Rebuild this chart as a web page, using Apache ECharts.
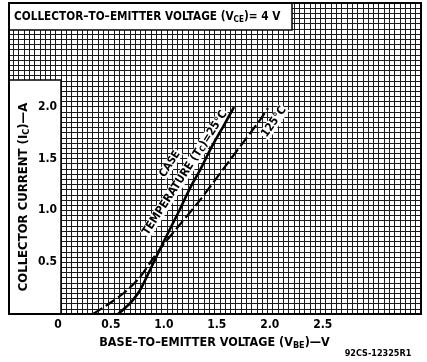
<!DOCTYPE html>
<html><head><meta charset="utf-8">
<script src="https://cdn.jsdelivr.net/npm/echarts@6/dist/echarts.min.js"></script>
<style>html,body{margin:0;padding:0;background:#fff}#c{width:427px;height:362px}</style>
</head><body><div id="c"></div>
<script>
// Case temperature 25 °C (solid)
const vbe25 = [0.54, 0.605, 0.671, 0.747, 0.841, 0.936, 1.03, 1.125, 1.219, 1.323, 1.427, 1.540, 1.634];
const ic25  = [0.00, 0.058, 0.125, 0.231, 0.424, 0.627, 0.82, 1.013, 1.215, 1.408, 1.620, 1.823, 1.996];
// Case temperature 125 °C (dashed)
const vbe125 = [0.303, 0.464, 0.605, 0.747, 0.86, 0.964, 1.096, 1.313, 1.596, 1.879, 1.955];
const ic125  = [0.00, 0.106, 0.212, 0.357, 0.521, 0.665, 0.829, 1.099, 1.485, 1.871, 1.986];

const xTickValues = [0, 0.5, 1.0, 1.5, 2.0, 2.5];
const xTickLabels = ['0', '0.5', '1.0', '1.5', '2.0', '2.5'];
const yTickValues = [0.5, 1.0, 1.5, 2.0];
const yTickLabels = ['0.5', '1.0', '1.5', '2.0'];

const titleText = 'COLLECTOR–TO–EMITTER VOLTAGE (V{s|CE})= 4 V';
const xName = 'BASE–TO–EMITTER VOLTAGE (V{s|BE})—V';
const yName = 'COLLECTOR CURRENT (I{s|C})—A';
const label25a = 'CASE';
const label25b = 'TEMPERATURE (T{s|C})=25°C';
const label125 = '125°C';
const footer = '92CS-12325R1';

const FONT = "'Liberation Sans Narrow','DejaVu Sans Condensed','Liberation Sans',sans-serif";

function pick(vals, labs) {
  return function (v) {
    for (let i = 0; i < vals.length; i++) if (Math.abs(vals[i] - v) < 1e-6) return labs[i];
    return '';
  };
}
const subRich = { s: { fontSize: 9, fontWeight: 'bold', fontFamily: FONT, padding: [6, 0, 0, 0], fill: '#000', color: '#000' } };

const gridLine = { show: true, lineStyle: { color: '#1a1a1a', width: 1 } };
const chart = echarts.init(document.getElementById('c'));
chart.setOption({
  animation: false,
  backgroundColor: '#fff',
  grid: { left: 8, right: 6, top: 3, bottom: 48, containLabel: false, outerBoundsMode: 'none' },
  xAxis: [
    { type: 'value', min: -0.5, max: 3.4, interval: 0.05, position: 'bottom', z: 0,
      axisLine: { show: false }, axisTick: { show: false }, axisLabel: { show: false }, splitLine: gridLine },
    { type: 'value', min: -0.5, max: 3.4, interval: 0.5, position: 'bottom', z: 5,
      axisLine: { show: false }, axisTick: { show: false }, splitLine: { show: false },
      axisLabel: { formatter: pick(xTickValues, xTickLabels), margin: 5, color: '#000', fontWeight: 'bold', fontSize: 12, fontFamily: FONT, padding: [0, 6, 0, 0] },
      name: xName, nameLocation: 'middle', nameGap: 17,
      nameTextStyle: { color: '#000', fontWeight: 'bold', fontSize: 12.5, fontFamily: FONT, verticalAlign: 'top', rich: subRich } }
  ],
  yAxis: [
    { type: 'value', min: 0, max: 3.0, interval: 0.05, z: 0,
      axisLine: { show: false, onZero: false }, axisTick: { show: false }, axisLabel: { show: false }, splitLine: gridLine },
    { type: 'value', min: 0, max: 3.0, interval: 0.5, z: 5, position: 'left',
      axisLine: { show: false, onZero: false }, axisTick: { show: false }, splitLine: { show: false },
      axisLabel: { formatter: pick(yTickValues, yTickLabels), margin: -49, align: 'right', color: '#000', fontWeight: 'bold', fontSize: 12, fontFamily: FONT } }
  ],
  graphic: [
    { type: 'rect', z: 1, shape: { x: 9, y: 3, width: 283, height: 27 }, style: { fill: '#fff', stroke: '#000', lineWidth: 1.5 } },
    { type: 'rect', z: 1, shape: { x: 9, y: 80, width: 52, height: 234 }, style: { fill: '#fff', stroke: '#000', lineWidth: 1.5 } },
    { type: 'rect', z: 3, shape: { x: 9, y: 3, width: 412, height: 311 }, style: { fill: 'none', stroke: '#000', lineWidth: 2 } },
    { type: 'text', z: 6, x: 14, y: 17, scaleX: 0.9, style: { text: titleText, fontSize: 13, fontWeight: 'bold', fontFamily: FONT, fill: '#000', verticalAlign: 'middle', rich: subRich } },
    { type: 'text', z: 6, x: 24, y: 197, rotation: Math.PI / 2, style: { text: yName, fontSize: 13, fontWeight: 'bold', fontFamily: FONT, fill: '#000', align: 'center', verticalAlign: 'middle', rich: subRich } },
    { type: 'text', z: 2, x: 170, y: 164, rotation: 57 * Math.PI / 180, style: { text: label25a, fontSize: 11, fontWeight: 'bold', fontFamily: FONT, fill: '#000', align: 'center', verticalAlign: 'middle', backgroundColor: '#fff', padding: [0, 1] } },
    { type: 'text', z: 2, x: 185, y: 173, rotation: 57 * Math.PI / 180, style: { text: label25b, fontSize: 11.5, fontWeight: 'bold', fontFamily: FONT, fill: '#000', align: 'center', verticalAlign: 'middle', backgroundColor: '#fff', padding: [0, 1], rich: { s: { fontSize: 8, fontWeight: 'bold', fontFamily: FONT, padding: [4, 0, 0, 0] } } } },
    { type: 'text', z: 2, x: 274, y: 122, rotation: 55 * Math.PI / 180, style: { text: label125, fontSize: 11.5, fontWeight: 'bold', fontFamily: FONT, fill: '#000', align: 'center', verticalAlign: 'middle', backgroundColor: '#fff', padding: [0, 1] } },
    { type: 'text', z: 6, x: 378, y: 354, style: { text: footer, fontSize: 9, fontWeight: 'bold', fontFamily: FONT, fill: '#000', align: 'center', verticalAlign: 'middle' } }
  ],
  series: [
    { type: 'line', xAxisIndex: 0, yAxisIndex: 0, z: 3, symbol: 'none', smooth: 0.3,
      data: vbe25.map((v, i) => [v, ic25[i]]), lineStyle: { color: '#000', width: 2.6 } },
    { type: 'line', xAxisIndex: 0, yAxisIndex: 0, z: 3, symbol: 'none', smooth: 0.3,
      data: vbe125.map((v, i) => [v, ic125[i]]), lineStyle: { color: '#000', width: 2.2, type: [11, 4] } }
  ]
});
</script></body></html>
